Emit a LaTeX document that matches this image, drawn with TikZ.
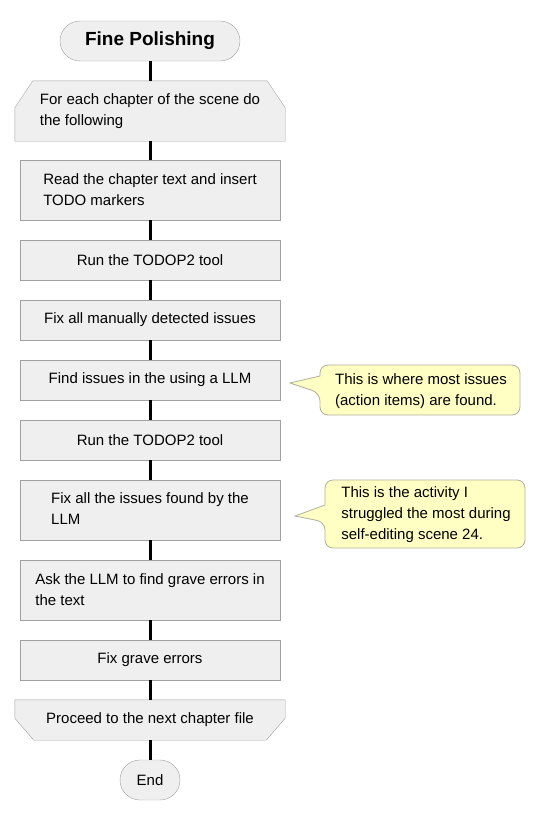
\documentclass[tikz,border=0pt]{standalone}
\usepackage{fontspec}
\setmainfont{Liberation Sans}
\usetikzlibrary{backgrounds}
\definecolor{boxfill}{HTML}{EFEFEF}
\definecolor{boxline}{HTML}{A0A0A0}
\definecolor{notefill}{HTML}{FFFFC4}
\definecolor{noteline}{HTML}{B0B0A0}
\tikzset{
  txt/.style={font=\fontsize{15}{21}\selectfont, align=left, inner sep=0pt},
  pill/.style={txt, draw=boxline, fill=boxfill, rounded corners=20pt, minimum height=40pt, align=center},
  stepbox/.style={txt, draw=boxline, fill=boxfill, minimum width=260pt, minimum height=40pt},
  tallbox/.style={stepbox, minimum height=60pt},
  loopbox/.style={txt, minimum width=270pt, minimum height=60pt},
  loopshape/.style={draw=boxline, fill=boxfill},
  flow/.style={line width=3pt, black},
  note/.style={draw=noteline, fill=notefill, line width=0.8pt},
  notetxt/.style={txt}
}
\begin{document}
\begin{tikzpicture}[x=1pt,y=-1pt]
\useasboundingbox (0,0) rectangle (545,814);
\node[pill, minimum width=180pt, font=\fontsize{19}{22}\selectfont\bfseries] (start) at (150,41) {Fine Polishing};
\node[loopbox] (loop) at (150,111) {For each chapter of the scene do\\the following};
\node[tallbox] (b1) at (150,190) {Read the chapter text and insert\\TODO markers};
\node[stepbox] (b2) at (150,260) {Run the TODOP2 tool};
\node[stepbox] (b3) at (150,320) {Fix all manually detected issues};
\node[stepbox] (b4) at (150,380) {Find issues in the using a LLM};
\node[stepbox] (b5) at (150,440) {Run the TODOP2 tool};
\node[tallbox] (b6) at (150,510) {Fix all the issues found by the\\LLM\phantom{ the issues found by the}};
\node[tallbox] (b7) at (150,590) {Ask the LLM to find grave errors in\\the text};
\node[stepbox] (b8) at (150,660) {Fix grave errors};
\node[loopbox, minimum height=40pt] (loopend) at (150,720) {Proceed to the next chapter file};
\node[pill, minimum width=60pt] (end) at (150,780) {End};
\begin{pgfonlayer}{background}
\draw[loopshape] (loop.south west) -- ([yshift=-27pt]loop.north west) -- ([xshift=18pt]loop.north west) -- ([xshift=-18pt]loop.north east) -- ([yshift=-27pt]loop.north east) -- (loop.south east) -- cycle;
\draw[loopshape] (loopend.north west) -- ([yshift=22pt]loopend.south west) -- ([xshift=19pt]loopend.south west) -- ([xshift=-19pt]loopend.south east) -- ([yshift=22pt]loopend.south east) -- (loopend.north east) -- cycle;
\end{pgfonlayer}
\foreach \a/\b in {start/loop,loop/b1,b1/b2,b2/b3,b3/b4,b4/b5,b5/b6,b6/b7,b7/b8,b8/loopend,loopend/end}
  \draw[flow] (\a.south) -- (\b.north);
% callout 1
\draw[note, rounded corners=8pt] (320,393) [sharp corners]-- (290,383) -- (320,376) [rounded corners=8pt] -- (320,365) -- (520,365) -- (520,415) -- (320,415) -- cycle;
\node[notetxt] (n1) at (421,391) {This is where most issues\\(action items) are found.};
% callout 2
\draw[note, rounded corners=8pt] (325,522) [sharp corners]-- (295,516) -- (325,505) [rounded corners=8pt] -- (325,480) -- (525,480) -- (525,548) -- (325,548) -- cycle;
\node[notetxt] (n2) at (426,515) {This is the activity I\\struggled the most during\\self-editing scene 24.};
\end{tikzpicture}
\end{document}
